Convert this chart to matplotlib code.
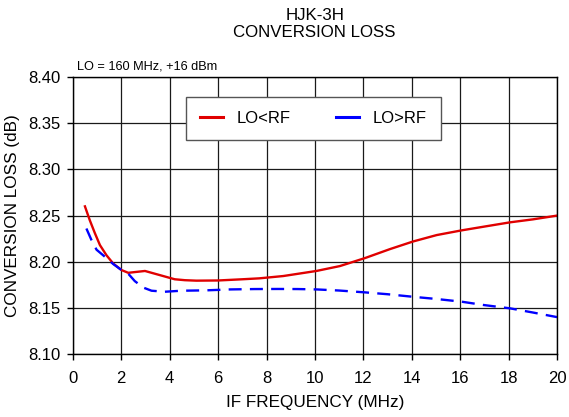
import matplotlib
matplotlib.use("Agg")
import matplotlib.pyplot as plt
from matplotlib.lines import Line2D

plt.rcParams['font.family'] = ['Liberation Sans', 'DejaVu Sans']

red_x = [0.50, 0.70, 0.91, 1.12, 1.39, 1.67, 2.01, 2.29, 2.63, 2.98, 3.39, 3.80, 4.21, 4.63, 5.1, 6.0, 7.0, 7.7, 8.69, 10.06, 11.03, 12.07, 13.1, 14.06, 15.03, 16.06, 17.09, 18.06, 19.0, 20.0]
red_y = [8.260, 8.245, 8.231, 8.218, 8.207, 8.198, 8.191, 8.188, 8.189, 8.190, 8.187, 8.184, 8.181, 8.180, 8.1795, 8.1797, 8.181, 8.182, 8.1845, 8.190, 8.1953, 8.204, 8.2137, 8.222, 8.2289, 8.234, 8.2385, 8.2427, 8.2459, 8.250]

blue_x = [0.56, 0.77, 0.98, 1.32, 1.67, 2.01, 2.29, 2.56, 2.91, 3.25, 3.80, 4.49, 5.5, 6.5, 7.5, 8.5, 9.3, 10.07, 11.0, 12.07, 13.0, 14.06, 15.0, 16.06, 17.0, 18.06, 19.0, 20.0]
blue_y = [8.236, 8.2235, 8.213, 8.2055, 8.1975, 8.191, 8.187, 8.179, 8.172, 8.1686, 8.1675, 8.1686, 8.169, 8.1700, 8.1704, 8.1705, 8.1704, 8.1700, 8.1688, 8.1668, 8.1648, 8.162, 8.1597, 8.1567, 8.153, 8.1495, 8.145, 8.140]

x_ticks = [0, 2, 4, 6, 8, 10, 12, 14, 16, 18, 20]
y_ticks = [8.10, 8.15, 8.20, 8.25, 8.30, 8.35, 8.40]

fig = plt.figure(figsize=(5.69, 4.17), dpi=100)
ax = fig.add_axes([0.128, 0.151, 0.851, 0.664])

ax.plot(red_x, red_y, color='#e00000', lw=1.7)
ax.plot(blue_x, blue_y, color='#0000ff', lw=1.7, ls=(0, (5.5, 3.5)))

ax.set_xlim(0, 20)
ax.set_ylim(8.10, 8.40)
ax.set_xticks(x_ticks)
ax.set_yticks(y_ticks)
ax.set_yticklabels([f"{v:.2f}" for v in y_ticks])
ax.grid(True, color='#1a1a1a', lw=0.9)
ax.set_axisbelow(True)
for s in ax.spines.values():
    s.set_color('black')
    s.set_linewidth(1.0)
ax.tick_params(direction='out', length=4, width=1, labelsize=12)
ax.tick_params(axis='x', pad=8)
ax.tick_params(axis='y', pad=5)

ax.set_xlabel('IF FREQUENCY (MHz)', fontsize=12.3, labelpad=7)
ax.set_ylabel('CONVERSION LOSS (dB)', fontsize=12.3, labelpad=6)

fig.text(0.553, 0.964, 'HJK-3H', ha='center', va='center', fontsize=12.2)
fig.text(0.553, 0.921, 'CONVERSION LOSS', ha='center', va='center', fontsize=12.2)
ax.text(0.008, 1.018, 'LO = 160 MHz, +16 dBm', transform=ax.transAxes, fontsize=9.2, ha='left', va='bottom')

handles = [Line2D([], [], color='#e00000', lw=2.2),
           Line2D([], [], color='#0000ff', lw=2.2)]
leg = ax.legend(handles, ['LO<RF', 'LO>RF'], loc='upper left',
                bbox_to_anchor=(0.233, 0.773, 0.527, 0.155), mode='expand', borderaxespad=0,
                ncol=2, fontsize=12, handlelength=1.4, handletextpad=0.8, columnspacing=2.5,
                fancybox=False, framealpha=1, borderpad=0.85)
leg.get_frame().set_edgecolor('#555555')
leg.get_frame().set_linewidth(1.0)

fig.savefig('out.png', dpi=100)
